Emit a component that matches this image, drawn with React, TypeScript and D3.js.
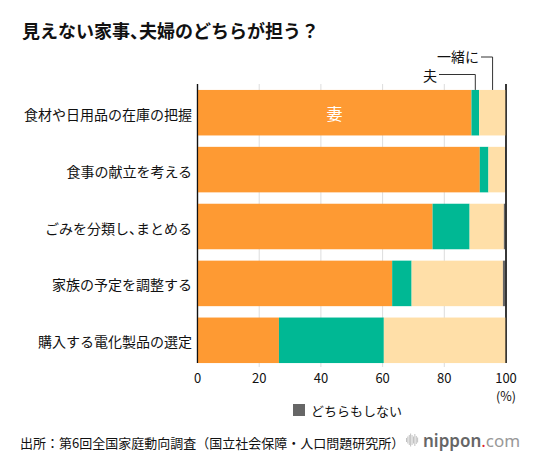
import React from "react";
import * as d3 from "d3";

// Who does the "invisible" housework — shares (%) per task
const categories = [
  "食材や日用品の在庫の把握",
  "食事の献立を考える",
  "ごみを分類し、まとめる",
  "家族の予定を調整する",
  "購入する電化製品の選定",
];
const seriesNames = ["妻", "夫", "一緒に", "どちらもしない"];
const wife = [88.8, 91.5, 76.2, 63.1, 26.4];
const husband = [2.5, 2.8, 12.0, 6.3, 34.0];
const together = [8.7, 5.4, 11.1, 29.6, 39.6];
const neither = [0, 0.3, 0.7, 1.0, 0];
const xTicks = [0, 20, 40, 60, 80, 100];

const colors = ["#FE9A33", "#00B894", "#FFDFA8", "#666666"];
const FONT = "'Noto Sans CJK JP', 'Noto Sans', sans-serif";
// half-width punctuation (e.g. the ideographic comma)
const HALT = { fontFeatureSettings: '"halt"' } as React.CSSProperties;

export default function App() {
  const W = 534;
  const H = 464;
  const x = d3.scaleLinear().domain([0, 100]).range([197.5, 506]);
  const y = d3
    .scaleBand<string>()
    .domain(categories)
    .range([84.25, 368.75])
    .paddingInner(0.2)
    .paddingOuter(0.1);

  const rows = categories.map((c, i) => ({
    cat: c,
    values: [wife[i], husband[i], together[i], neither[i]],
  }));
  const stack = d3
    .stack<{ cat: string; values: number[] }, number>()
    .keys([0, 1, 2, 3])
    .value((d, k) => d.values[k]);
  const layers = stack(rows);

  const plotTop = 84;
  const plotBottom = 363;
  const bw = y.bandwidth();

  // callout positions for the first bar's small segments
  const first = categories[0];
  const husbandMid = x((layers[1][0][0] + layers[1][0][1]) / 2);
  const togetherMid = x((layers[2][0][0] + layers[2][0][1]) / 2);
  const barTop = y(first)!;

  return (
    <svg
      width={W}
      height={H}
      style={{ position: "absolute", left: 0, top: 0, background: "#fff" }}
      fontFamily={FONT}
    >
      <text x={22} y={38} fontSize={18} fontWeight="bold" fill="#111" style={HALT}>
        見えない家事、夫婦のどちらが担う？
      </text>

      {/* gridlines */}
      {xTicks.map((t) => {
        const edge = t === 0 || t === 100;
        return (
          <line
            key={t}
            x1={x(t)}
            x2={x(t)}
            y1={plotTop}
            y2={edge ? plotBottom : plotBottom + 4}
            stroke={edge ? "#111" : "#ddd"}
            strokeWidth={edge ? 1.2 : 1}
          />
        );
      })}

      {/* stacked bars */}
      {layers.map((layer, li) =>
        layer.map((d) => (
          <rect
            key={`${li}-${d.data.cat}`}
            x={x(d[0])}
            y={y(d.data.cat)}
            width={Math.max(0, x(d[1]) - x(d[0]))}
            height={bw}
            fill={colors[li]}
          />
        ))
      )}

      {/* axis edges above bars */}
      {[0, 100].map((t) => (
        <line
          key={`edge-${t}`}
          x1={x(t)}
          x2={x(t)}
          y1={plotTop}
          y2={plotBottom}
          stroke="#111"
          strokeWidth={1.2}
        />
      ))}

      {/* in-bar label for wife */}
      <text
        x={(x(layers[0][0][0]) + x(layers[0][0][1])) / 2}
        y={barTop + bw / 2}
        fontSize={16}
        fill="#fff"
        textAnchor="middle"
        dominantBaseline="central"
      >
        {seriesNames[0]}
      </text>

      {/* callouts for husband / together */}
      <path
        d={`M${husbandMid},${barTop} V74.5 H439`}
        fill="none"
        stroke="#333"
        strokeWidth={1}
      />
      <text x={437} y={75} fontSize={14} textAnchor="end" dominantBaseline="central" fill="#111">
        {seriesNames[1]}
      </text>
      <path
        d={`M${togetherMid},${barTop} V57 H481`}
        fill="none"
        stroke="#333"
        strokeWidth={1}
      />
      <text x={479} y={56} fontSize={14} textAnchor="end" dominantBaseline="central" fill="#111">
        {seriesNames[2]}
      </text>

      {/* category labels */}
      {categories.map((c) => (
        <text
          key={c}
          x={192}
          y={y(c)! + bw / 2 + 1}
          fontSize={14}
          textAnchor="end"
          dominantBaseline="central"
          fill="#111"
          style={HALT}
        >
          {c}
        </text>
      ))}

      {/* x tick labels */}
      {xTicks.map((t) => (
        <text
          key={`t-${t}`}
          x={x(t)}
          y={377}
          fontSize={13}
          textAnchor="middle"
          dominantBaseline="central"
          fill="#111"
        >
          {t}
        </text>
      ))}
      <text x={x(100)} y={395} fontSize={12.5} textAnchor="middle" dominantBaseline="central" fill="#111">
        (%)
      </text>

      {/* legend */}
      <rect x={293} y={404} width={12} height={12} fill={colors[3]} />
      <text x={311} y={410} fontSize={13} dominantBaseline="central" fill="#111">
        {seriesNames[3]}
      </text>

      {/* source */}
      <text x={20} y={442} fontSize={13} dominantBaseline="central" fill="#111">
        出所：第6回全国家庭動向調査（国立社会保障・人口問題研究所）
      </text>

      {/* logo */}
      {[4, 7, 10, 13, 10, 7, 12, 8, 5].map((h, i) => (
        <rect key={`lg-${i}`} x={406 + i * 1.4} y={440 - h / 2} width={0.9} height={h} fill="#bbb" />
      ))}
      <text x={423} y={440} fontSize={17} dominantBaseline="central" fontFamily="'Noto Sans', sans-serif">
        <tspan fill="#666" fontWeight="600">nippon</tspan>
        <tspan fill="#e0242b">.</tspan>
        <tspan fill="#999">com</tspan>
      </text>
    </svg>
  );
}
